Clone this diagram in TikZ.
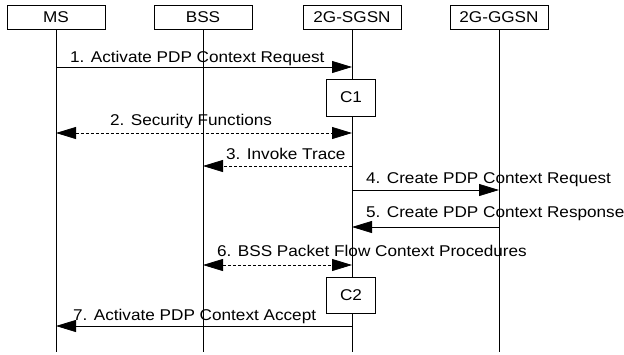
\documentclass[tikz,border=0pt]{standalone}
\usepackage{fontspec}
\setmainfont{Liberation Sans}[FakeStretch=1.1]
\usetikzlibrary{arrows.meta}
\begin{document}
\begin{tikzpicture}[x=1pt,y=-1pt,
  font=\fontsize{15.6}{18}\selectfont,
  head/.style={draw,line width=0.8pt,minimum width=98pt,minimum height=24pt,inner sep=0pt,fill=white},
  cbox/.style={draw,line width=0.8pt,minimum width=49pt,inner sep=0pt,fill=white},
  life/.style={line width=0.8pt},
  msg/.style={line width=0.8pt,-{Triangle[length=20pt,width=12pt]}},
  dmsg/.style={msg,dash pattern=on 3pt off 2pt},
  ddmsg/.style={line width=0.8pt,dash pattern=on 3pt off 2pt,{Triangle[length=20pt,width=12pt]}-{Triangle[length=20pt,width=12pt]}},
  lbl/.style={anchor=base west,inner sep=0pt}]
\useasboundingbox (0,0) rectangle (624,354);
\node[head] (ms) at (56,17) {MS};
\node[head] (bss) at (203,17) {BSS};
\node[head] (sgsn) at (352,17) {2G-SGSN};
\node[head] (ggsn) at (499,17) {2G-GGSN};
\coordinate (end) at (0,352);
\draw[life] (ms.south) -- (ms.south |- end);
\draw[life] (bss.south) -- (bss.south |- end);
\draw[life] (sgsn.south) -- (sgsn.south |- end);
\draw[life] (ggsn.south) -- (ggsn.south |- end);
\coordinate (y1) at (0,67);
\coordinate (y2) at (0,133);
\coordinate (y3) at (0,166);
\coordinate (y4) at (0,190);
\coordinate (y5) at (0,227);
\coordinate (y6) at (0,265);
\coordinate (y7) at (0,326);
\draw[msg] (ms.south |- y1) -- (sgsn.south |- y1);
\node[lbl] (l1) at (70,62) {1. Activate PDP Context Request};
\node[cbox,minimum height=37pt] (c1) at (351,97.5) {C1};
\draw[ddmsg] (ms.south |- y2) -- (sgsn.south |- y2);
\node[lbl] (l2) at (110,125) {2. Security Functions};
\draw[dmsg] (sgsn.south |- y3) -- (bss.south |- y3);
\node[lbl] (l3) at (226,159) {3. Invoke Trace};
\draw[msg] (sgsn.south |- y4) -- (ggsn.south |- y4);
\node[lbl] (l4) at (366,183) {4. Create PDP Context Request};
\draw[msg] (ggsn.south |- y5) -- (sgsn.south |- y5);
\node[lbl] (l5) at (366,217) {5. Create PDP Context Response};
\draw[ddmsg] (bss.south |- y6) -- (sgsn.south |- y6);
\node[lbl] (l6) at (217,256) {6. BSS Packet Flow Context Procedures};
\node[cbox,minimum height=36pt] (c2) at (351,295) {C2};
\draw[msg] (sgsn.south |- y7) -- (ms.south |- y7);
\node[lbl] (l7) at (73,320) {7. Activate PDP Context Accept};
\end{tikzpicture}
\end{document}
